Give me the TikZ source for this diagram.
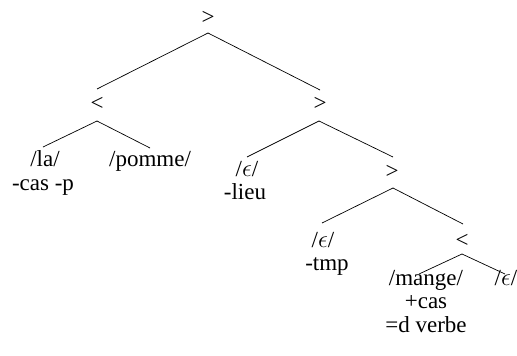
\documentclass[tikz,border=0pt]{standalone}
\usepackage{fontspec}
\setmainfont{Liberation Serif}
\usetikzlibrary{calc}
\begin{document}
\begin{tikzpicture}[x=1pt,y=-1pt,
  op/.style={inner sep=0pt,font=\fontsize{23}{23.5}\selectfont},
  lbl/.style={inner sep=0pt,align=center,font=\fontsize{23}{23.5}\selectfont},
  br/.style={line width=0.7pt}]
\useasboundingbox (0,0) rectangle (517,356);
% internal nodes
\node[op] (r) at (208,18) {>};
\node[op] (a) at (97,104) {<};
\node[op] (b) at (320,104) {>};
\node[op] (c) at (392,172) {>};
\node[op] (d) at (462,241) {<};
% leaves
\node[lbl,anchor=north] (la) at (43,150.8) {\hspace*{4pt}/la/\\-cas -p};
\node[lbl,anchor=base] (pomme) at (150,166.5) {/pomme/};
\node[lbl,anchor=north] (e1) at (245,160.75) {\hspace*{4pt}/$\epsilon$/\\-lieu};
\node[lbl,anchor=north] (e2) at (327,231.75) {/$\epsilon$/\hspace*{8pt}\\-tmp};
\node[lbl,anchor=north] (mange) at (426,269.75) {/mange/\\+cas\\=d verbe};
\node[lbl,anchor=base] (e3) at (506,285.3) {/$\epsilon$/};
% branches
\draw[br] ($(r)+(0,15)$) -- ($(a)+(0,-15)$);
\draw[br] ($(r)+(0,15)$) -- ($(b)+(0,-14)$);
\draw[br] ($(a)+(0,17)$) -- ($(la.north)+(0,-3.8)$);
\draw[br] ($(a)+(0,17)$) -- ($(pomme.base)+(0,-18.5)$);
\draw[br] ($(b)+(-1,17)$) -- ($(e1.north)+(2,-3.75)$);
\draw[br] ($(b)+(-1,17)$) -- ($(c)+(1,-15)$);
\draw[br] ($(c)+(1,16)$) -- ($(e2.north)+(-5,-8.75)$);
\draw[br] ($(c)+(1,16)$) -- ($(d)+(1,-17)$);
\draw[br] ($(d)+(0,13)$) -- ($(mange.north)+(-7,4.25)$);
\draw[br] ($(d)+(0,13)$) -- ($(e3.base)+(-1,-11.3)$);
\end{tikzpicture}
\end{document}
